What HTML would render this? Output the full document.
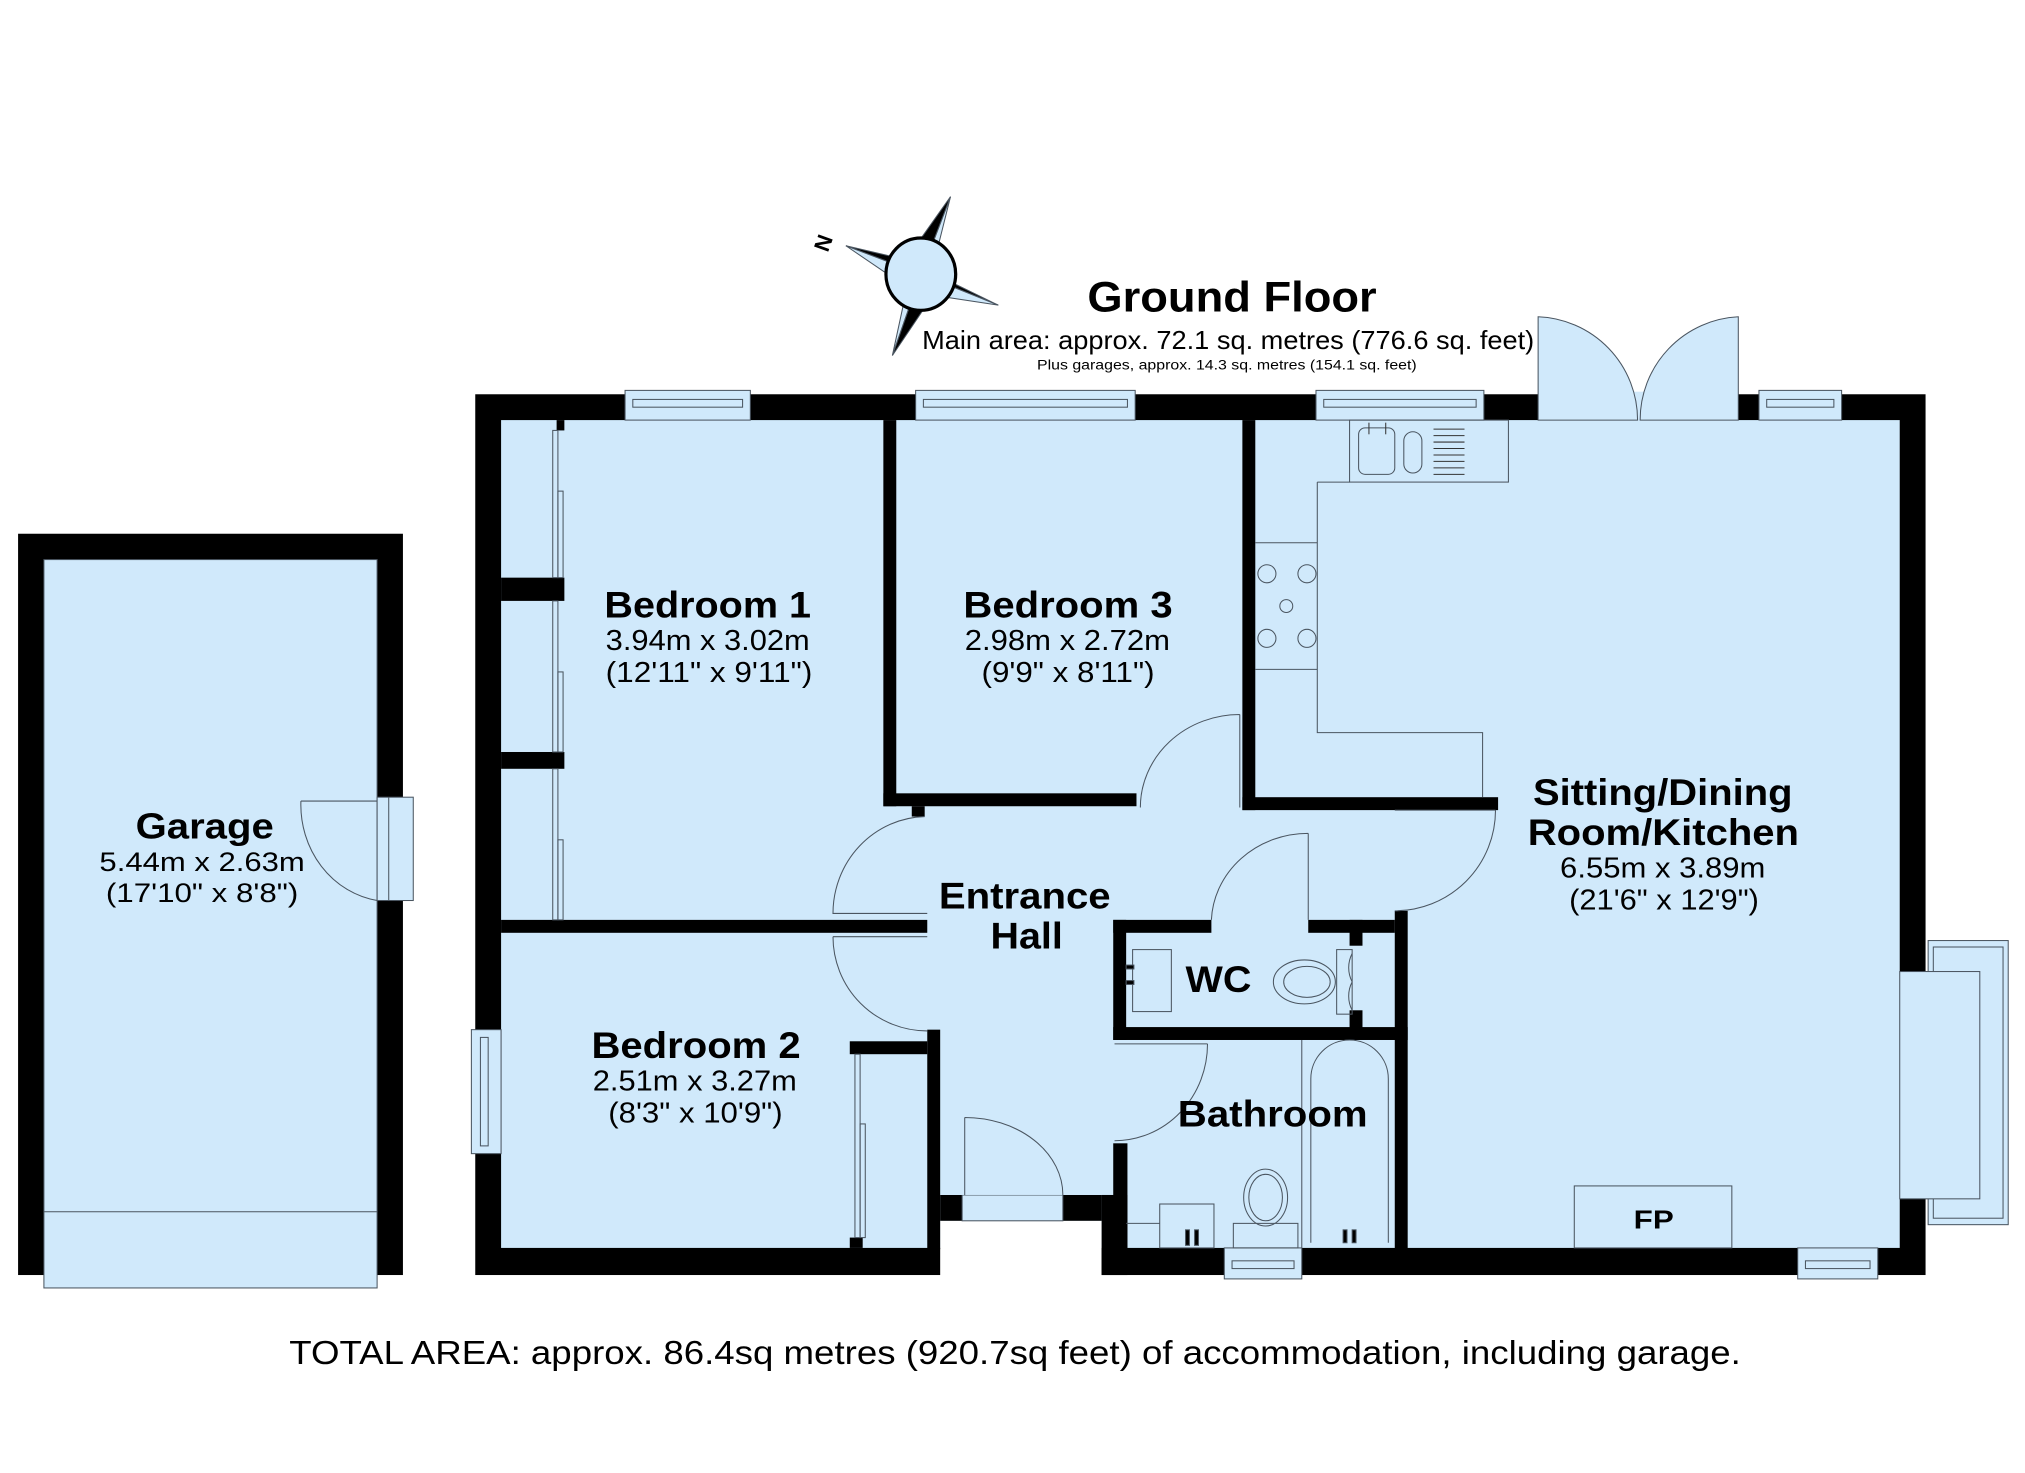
<!DOCTYPE html>
<html><head><meta charset="utf-8"><style>
html,body{margin:0;padding:0;background:#fff;}
svg{display:block;}
text{font-family:"Liberation Sans",Arial,sans-serif;fill:#000;}
</style></head><body>
<svg width="2025" height="1473" viewBox="0 0 1568 1140" xmlns="http://www.w3.org/2000/svg">
<g stroke="#4a5560" stroke-width="0.8" fill="#d0e9fb">
<!-- Garage -->
<rect x="14" y="413" width="298" height="574" fill="#000" stroke="none"/>
<rect x="34" y="433" width="258" height="564"/>
<line x1="34" y1="938" x2="292" y2="938"/>
<rect x="292" y="617" width="28" height="80"/>
<line x1="301" y1="617" x2="301" y2="697"/>
<path d="M233,620 L292,620 M233,620 A70,75 0 0 0 292,697" fill="none"/>

<!-- Main building fill -->
<rect x="368" y="305" width="1123" height="682" fill="#000" stroke="none"/>
<rect x="388" y="325" width="1083" height="641" stroke="none"/>
<rect x="728" y="945" width="125" height="44" fill="#fff" stroke="none"/>
<rect x="728" y="925" width="125" height="20" fill="#000" stroke="none"/>
<rect x="745" y="925" width="78" height="20"/>
<rect x="728" y="820" width="135" height="105" stroke="none"/>

<!-- French door gap -->
<rect x="1191" y="303" width="155" height="24" stroke="none"/>
<path d="M1191,245 L1191,325 L1268,325 A80,80 0 0 0 1191,245 Z"/>
<path d="M1346,245 L1346,325 L1270,325 A80,80 0 0 1 1346,245 Z"/>

<!-- top windows -->
<rect x="484" y="302" width="97" height="23"/><rect x="490" y="309" width="85" height="6"/>
<rect x="709" y="302" width="170" height="23"/><rect x="715" y="309" width="158" height="6"/>
<rect x="1019" y="302" width="130" height="23"/><rect x="1025" y="309" width="118" height="6"/>
<rect x="1362" y="302" width="64" height="23"/><rect x="1368" y="309" width="52" height="6"/>
<!-- bottom windows -->
<rect x="948" y="966" width="60" height="24"/><rect x="954" y="976" width="48" height="6"/>
<rect x="1392" y="966" width="62" height="24"/><rect x="1398" y="976" width="50" height="6"/>
<rect x="365" y="797" width="23" height="96"/><rect x="372" y="803" width="6" height="84"/>
<!-- bay window -->
<rect x="1471" y="752" width="22" height="176" stroke="none"/>
<rect x="1493" y="728" width="62" height="220"/>
<rect x="1497" y="733" width="54" height="210" fill="none"/>
<rect x="1471" y="752" width="62" height="176"/>

<g fill="#000" stroke="none">
<rect x="684" y="325" width="10" height="299"/>
<rect x="684" y="614" width="196" height="10"/>
<rect x="706" y="624" width="10" height="8"/>
<rect x="962" y="325" width="10" height="302"/>
<rect x="962" y="617" width="198" height="10"/>
<rect x="388" y="712" width="330" height="10"/>
<rect x="388" y="447" width="49" height="18"/>
<rect x="388" y="582" width="49" height="13"/>
<rect x="431" y="325" width="6" height="8"/>
<rect x="718" y="797" width="10" height="170"/>
<rect x="658" y="806" width="60" height="10"/>
<rect x="658" y="958" width="10" height="8"/>
<rect x="862" y="712" width="76" height="10"/>
<rect x="1013" y="712" width="67" height="10"/>
<rect x="1045" y="712" width="10" height="20"/>
<rect x="1045" y="782" width="10" height="18"/>
<rect x="862" y="712" width="10" height="93"/>
<rect x="862" y="795" width="228" height="10"/>
<rect x="1080" y="705" width="10" height="262"/>
<rect x="862" y="885" width="11" height="82"/>
<rect x="853" y="925" width="20" height="62"/>
</g>

<rect x="428" y="333" width="4" height="114"/><rect x="432" y="380" width="4" height="67" fill="none"/>
<rect x="428" y="465" width="4" height="117"/><rect x="432" y="520" width="4" height="62" fill="none"/>
<rect x="428" y="595" width="4" height="117"/><rect x="432" y="650" width="4" height="62" fill="none"/>
<rect x="662" y="816" width="4" height="142"/><rect x="666" y="870" width="4" height="88" fill="none"/>

<g fill="none">
<path d="M716,632 A73,75 0 0 0 645,707 L718,707"/>
<path d="M645,725 L718,725 M645,725 A73,73 0 0 0 718,798"/>
<path d="M960,553 L960,625 M960,553 A77,72 0 0 0 883,625"/>
<path d="M1080,627 L1158,627 M1158,627 A78,78 0 0 1 1080,705"/>
<path d="M1013,645 L1013,712 M1013,645 A75,70 0 0 0 938,712"/>
<path d="M863,808 L935,808 M935,808 A72,75 0 0 1 863,883"/>
<path d="M747,865 L747,925 M747,865 A76,60 0 0 1 823,925"/>
</g>

<rect x="1045" y="325" width="123" height="48" fill="none"/>
<path d="M1020,373 L1045,373 M1020,373 L1020,567 L1148,567 L1148,617" fill="none"/>
<line x1="972" y1="420" x2="1020" y2="420"/><line x1="972" y1="518" x2="1020" y2="518"/>
<circle cx="981" cy="444" r="7" fill="none"/><circle cx="1012" cy="444" r="7" fill="none"/>
<circle cx="996" cy="469" r="5" fill="none"/>
<circle cx="981" cy="494" r="7" fill="none"/><circle cx="1012" cy="494" r="7" fill="none"/>
<rect x="1052" y="331" width="28" height="36" rx="5" fill="none"/>
<rect x="1087" y="334" width="14" height="32" rx="7" fill="none"/>
<g stroke="#333"><line x1="1060" y1="327" x2="1060" y2="336"/><line x1="1073" y1="327" x2="1073" y2="336"/>
<line x1="1110" y1="332" x2="1134" y2="332"/><line x1="1110" y1="337" x2="1134" y2="337"/><line x1="1110" y1="342" x2="1134" y2="342"/><line x1="1110" y1="347" x2="1134" y2="347"/><line x1="1110" y1="352" x2="1134" y2="352"/><line x1="1110" y1="357" x2="1134" y2="357"/><line x1="1110" y1="362" x2="1134" y2="362"/><line x1="1110" y1="367" x2="1134" y2="367"/></g>

<rect x="877" y="735" width="30" height="48" fill="none"/>
<rect x="872" y="747" width="6" height="3" fill="#000"/><rect x="872" y="759" width="6" height="3" fill="#000"/>
<ellipse cx="1010" cy="760" rx="24" ry="17" fill="none"/>
<ellipse cx="1012" cy="760" rx="18" ry="12" fill="none"/>
<rect x="1035" y="735" width="12" height="50" fill="none"/>
<path d="M1047,738 A20,22 0 0 0 1047,760 M1047,782 A20,22 0 0 1 1047,760" fill="none"/>

<path d="M1015,962 L1015,835 A30,30 0 0 1 1075,835 L1075,962" fill="none"/>
<line x1="1008" y1="805" x2="1008" y2="966"/>
<rect x="898" y="932" width="42" height="34" fill="none"/>
<rect x="918" y="952" width="3" height="12" fill="#000"/><rect x="925" y="952" width="3" height="12" fill="#000"/>
<ellipse cx="980" cy="927" rx="17" ry="22" fill="none"/><ellipse cx="980" cy="927" rx="13" ry="18" fill="none"/>
<rect x="955" y="947" width="50" height="19" fill="none"/>
<line x1="872" y1="947" x2="898" y2="947"/>
<rect x="1040" y="952" width="3" height="10" fill="#000"/><rect x="1047" y="952" width="3" height="10" fill="#000"/>

<rect x="1219" y="918" width="122" height="48" fill="none"/>

<!-- compass -->
<polygon points="713,212 655,190 698,200" fill="#000"/>
<polygon points="713,212 655,190 702,222" fill="#d0e9fb"/>
<polygon points="713,212 736,152 724,200" fill="#d0e9fb"/>
<polygon points="713,212 736,152 702,200" fill="#000"/>
<polygon points="713,212 773,236 728,214" fill="#000"/>
<polygon points="713,212 773,236 720,228" fill="#d0e9fb"/>
<polygon points="713,212 691,275 702,224" fill="#d0e9fb"/>
<polygon points="713,212 691,275 724,226" fill="#000"/>
<ellipse cx="713" cy="212" rx="27" ry="28" stroke="#000" stroke-width="2.5"/>
</g>
<text x="630" y="192" font-size="17" font-weight="bold" transform="rotate(-70 638 186)">N</text>

<text x="842" y="241" font-size="33" font-weight="bold" textLength="224" lengthAdjust="spacingAndGlyphs">Ground Floor</text>
<text x="714" y="270" font-size="20" textLength="474" lengthAdjust="spacingAndGlyphs">Main area: approx. 72.1 sq. metres (776.6 sq. feet)</text>
<text x="803" y="286" font-size="11" textLength="294" lengthAdjust="spacingAndGlyphs">Plus garages, approx. 14.3 sq. metres (154.1 sq. feet)</text>

<g lengthAdjust="spacingAndGlyphs">
<text x="468" y="478" font-size="29" font-weight="bold" textLength="160" lengthAdjust="spacingAndGlyphs">Bedroom 1</text>
<text x="469" y="503" font-size="22" textLength="158" lengthAdjust="spacingAndGlyphs">3.94m x 3.02m</text>
<text x="469" y="528" font-size="22" textLength="160" lengthAdjust="spacingAndGlyphs">(12'11" x 9'11")</text>
<text x="746" y="478" font-size="29" font-weight="bold" textLength="162" lengthAdjust="spacingAndGlyphs">Bedroom 3</text>
<text x="747" y="503" font-size="22" textLength="159" lengthAdjust="spacingAndGlyphs">2.98m x 2.72m</text>
<text x="760" y="528" font-size="22" textLength="134" lengthAdjust="spacingAndGlyphs">(9'9" x 8'11")</text>
<text x="458" y="819" font-size="29" font-weight="bold" textLength="162" lengthAdjust="spacingAndGlyphs">Bedroom 2</text>
<text x="459" y="844" font-size="22" textLength="158" lengthAdjust="spacingAndGlyphs">2.51m x 3.27m</text>
<text x="471" y="869" font-size="22" textLength="135" lengthAdjust="spacingAndGlyphs">(8'3" x 10'9")</text>
<text x="727" y="703" font-size="29" font-weight="bold" textLength="133" lengthAdjust="spacingAndGlyphs">Entrance</text>
<text x="767" y="734" font-size="29" font-weight="bold" textLength="56" lengthAdjust="spacingAndGlyphs">Hall</text>
<text x="918" y="768" font-size="29" font-weight="bold" textLength="51" lengthAdjust="spacingAndGlyphs">WC</text>
<text x="912" y="872" font-size="29" font-weight="bold" textLength="147" lengthAdjust="spacingAndGlyphs">Bathroom</text>
<text x="1187" y="623" font-size="29" font-weight="bold" textLength="201" lengthAdjust="spacingAndGlyphs">Sitting/Dining</text>
<text x="1183" y="654" font-size="29" font-weight="bold" textLength="210" lengthAdjust="spacingAndGlyphs">Room/Kitchen</text>
<text x="1208" y="679" font-size="22" textLength="159" lengthAdjust="spacingAndGlyphs">6.55m x 3.89m</text>
<text x="1215" y="704" font-size="22" textLength="147" lengthAdjust="spacingAndGlyphs">(21'6" x 12'9")</text>
<text x="1265" y="951" font-size="20" font-weight="bold" textLength="31" lengthAdjust="spacingAndGlyphs">FP</text>
<text x="105" y="649" font-size="28" font-weight="bold" textLength="107" lengthAdjust="spacingAndGlyphs">Garage</text>
<text x="77" y="674" font-size="21" textLength="159" lengthAdjust="spacingAndGlyphs">5.44m x 2.63m</text>
<text x="82" y="698" font-size="21" textLength="149" lengthAdjust="spacingAndGlyphs">(17'10" x 8'8")</text>
<text x="224" y="1056" font-size="26" textLength="1124" lengthAdjust="spacingAndGlyphs">TOTAL AREA: approx. 86.4sq metres (920.7sq feet) of accommodation, including garage.</text>
</g>
</svg>
</body></html>
